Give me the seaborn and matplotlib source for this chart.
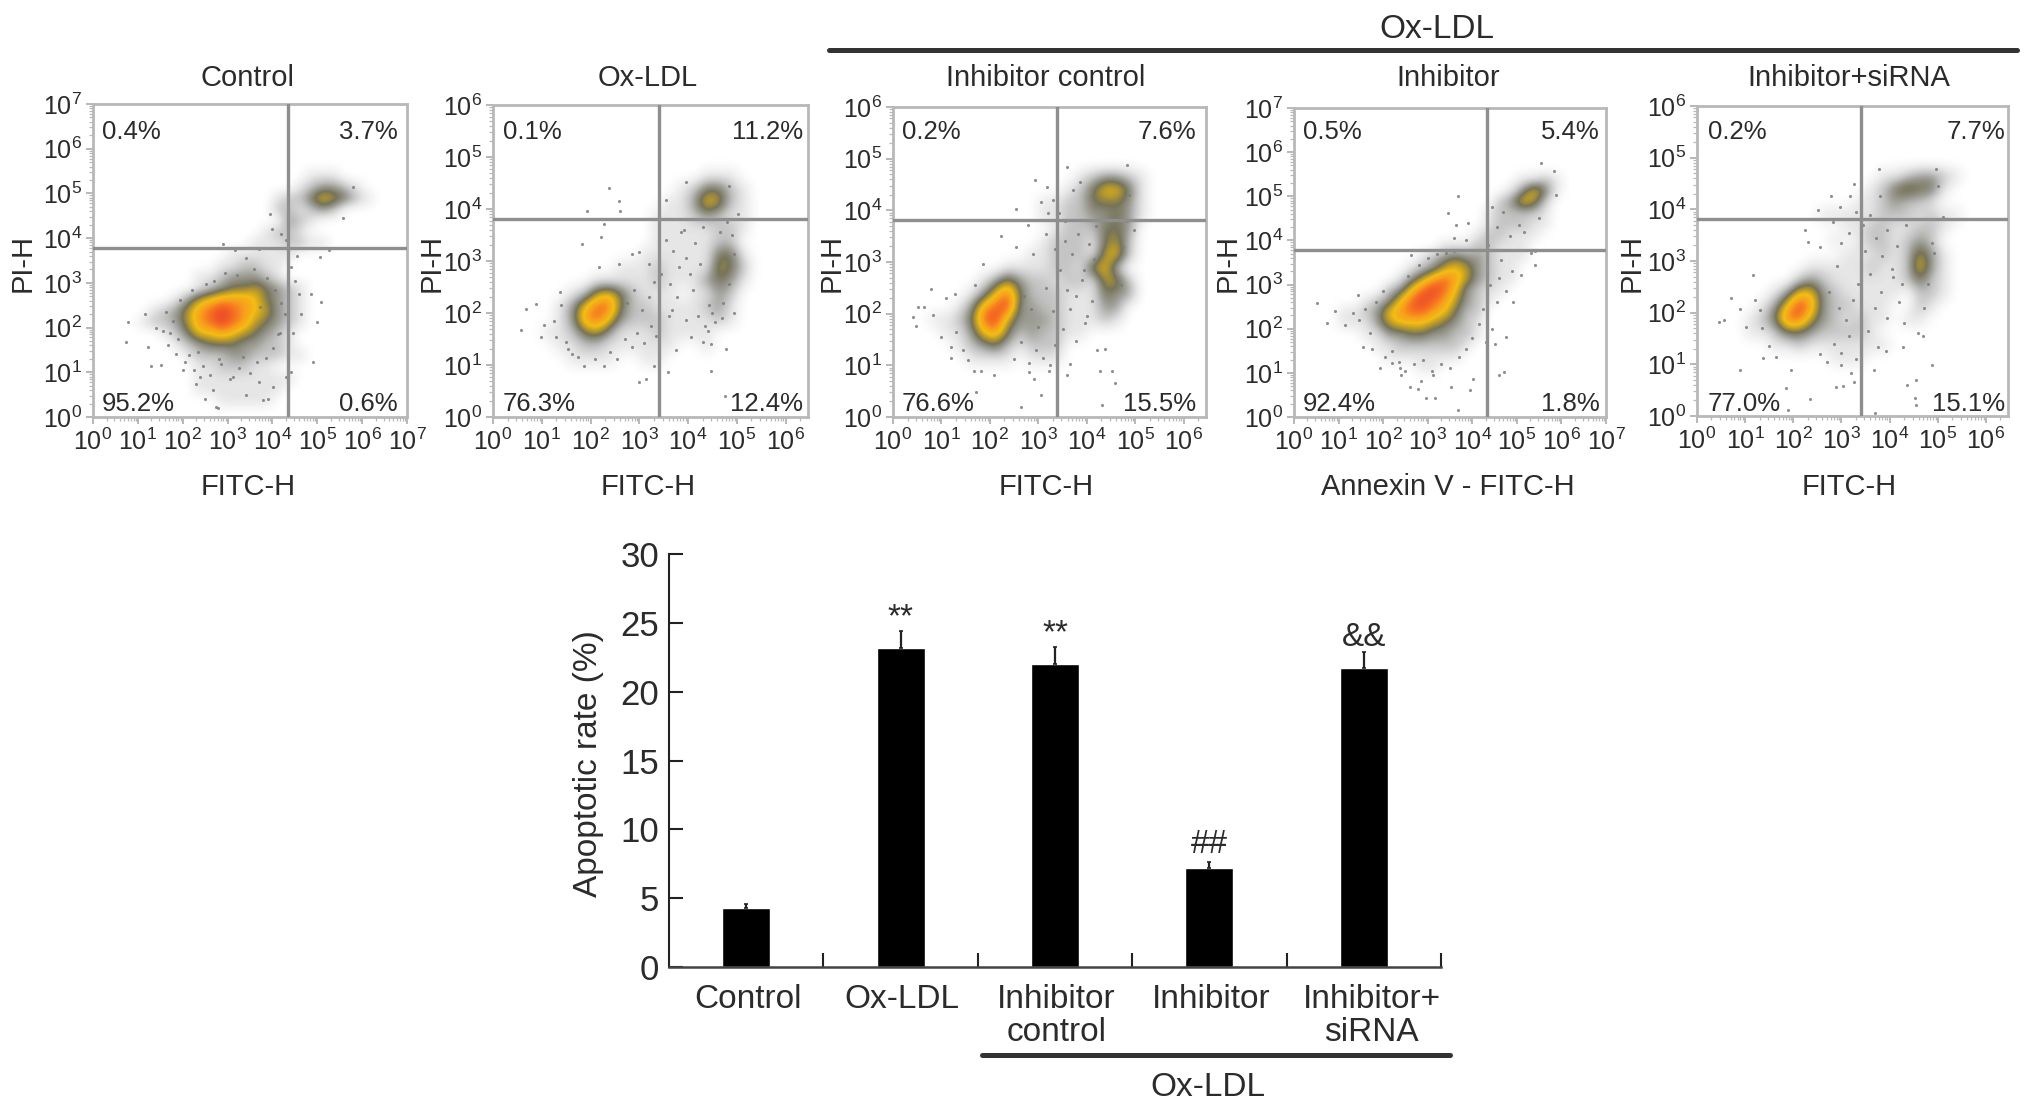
import numpy as np
import pandas as pd
import seaborn as sns
import matplotlib.pyplot as plt
from matplotlib.colors import LinearSegmentedColormap
from matplotlib.transforms import ScaledTranslation

W, H = 2031, 1117

# bar chart values
groups = ['Control', 'Ox-LDL', 'Inhibitor\ncontrol', 'Inhibitor', 'Inhibitor+\nsiRNA']
apoptotic_rate = [4.3, 23.2, 22.0, 7.2, 21.7]
rate_error = [0.3, 1.2, 1.25, 0.45, 1.15]
significance = ['', '**', '**', '##', '&&']
significance_y = [0, 25.4, 24.2, 8.9, 23.9]

# flow panels
titles = ['Control', 'Ox-LDL', 'Inhibitor control', 'Inhibitor', 'Inhibitor+siRNA']
xlabels = ['FITC-H', 'FITC-H', 'FITC-H', 'Annexin V - FITC-H', 'FITC-H']
upper_left = ['0.4%', '0.1%', '0.2%', '0.5%', '0.2%']
upper_right = ['3.7%', '11.2%', '7.6%', '5.4%', '7.7%']
lower_left = ['95.2%', '76.3%', '76.6%', '92.4%', '77.0%']
lower_right = ['0.6%', '12.4%', '15.5%', '1.8%', '15.1%']
gate_x = [4.35, 3.41, 3.38, 4.34, 3.41]
gate_y = [3.78, 3.81, 3.82, 3.79, 3.82]
decades_x = [7, 6.46, 6.46, 7, 6.46]
decades_y = [7, 6, 6, 7, 6]

# event density, on a quarter-decade grid.
# one row per 0.25 decade of PI-H from 5.5 down to 0: (first column, levels)
density_control = [
    (19, '111'), (18, '123321'), (16, '122465421'), (16, '221232'),
    (17, '321'), (15, '1221'), (14, '1112211'), (12, '111111'),
    (11, '112211'), (9, '11233321'), (9, '1234454321'), (7, '135677764321'),
    (5, '12357898765321'), (4, '122357898754321'), (6, '124667654321'),
    (7, '12344433221'), (8, '12223322211'), (9, '1122211'), (9, '111111111'),
    (9, '11111111'), (11, '11111'), (0, ''),
]
density_oxldl = [
    (0, ''), (0, ''), (0, ''), (17, '111'), (15, '124421'), (14, '1136521'),
    (13, '11123211'), (13, '11111221'), (13, '1111122'), (12, '111111441'),
    (10, '11121111542'), (8, '1111121113431'), (6, '12564211101132'),
    (5, '136884221111231'), (5, '137863222111121'), (4, '11245311121111'),
    (5, '1122111111001'), (6, '11110011'), (0, ''), (0, ''), (0, ''), (0, ''),
]
density_inhibitor_control = [
    (0, ''), (0, ''), (0, ''), (15, '123321'), (14, '1246641'),
    (12, '112244431'), (12, '112233431'), (13, '1222443'), (12, '12221452'),
    (11, '112221562'), (9, '1111221562'), (7, '1353221221552'),
    (6, '13684222111433'), (5, '13789332211133'), (3, '1124895333211121'),
    (4, '113674232211'), (5, '123421222'), (6, '11110111'),
    (0, ''), (0, ''), (0, ''), (0, ''),
]
density_inhibitor = [
    (20, '1121'), (19, '13641'), (18, '23652'), (17, '122221'), (17, '122211'),
    (16, '122111'), (13, '11122111'), (11, '1234332111'), (10, '1235653211'), (9, '13578753211'),
    (8, '23689863211'), (6, '123689875321'),
    (4, '1123678876422'), (4, '1113566654321'), (6, '11334433221'), (7, '112222221'),
    (8, '1111111'), (11, '11'), (0, ''), (0, ''), (0, ''), (0, ''),
]
density_inhibitor_sirna = [
    (0, ''), (0, ''), (0, ''), (15, '1123321'), (14, '1245441'),
    (13, '1123221'), (10, '111112221211'), (12, '112211221'),
    (11, '101221232'), (12, '111212531'),
    (9, '111112112631'), (8, '2321111112421'),
    (6, '136632111110221'), (5, '136973221110021'),
    (4, '124885321211011'), (4, '11244322221'),
    (6, '1121111111'), (11, '111'), (0, ''), (0, ''), (0, ''), (0, ''),
]
densities = [density_control, density_oxldl, density_inhibitor_control,
             density_inhibitor, density_inhibitor_sirna]

# single events outside the clouds, log10 units
stray_x = [
    [.78, .73, 1.15, 1.3, 1.52, 1.23, 1.41, 1.71, 4.9, 5.0, 5.09, 4.64, 4.46, 4.87, 4.6, 5.05, 5.27, 5.8,
     5.57, 2.9, 3.16, 3.94, 2.75, 2.0, 2.3, 2.67, 3.42, 3.79, 3.9, 4.01, 3.71, 2.38, 2.79, 2.49, 3.12, 4.16,
     4.31, 4.42],
    [2.38, 2.59, 2.61, 1.92, 2.28, 2.21, 1.82, .57, .67, .88, .98, 1.05, 1.29, 1.53, 1.87, 2.28, 2.09, 3.0,
     3.14, 3.31, 3.58, 4.47, 4.77, 4.95, 4.95, 5.02, 4.75, 3.75, 4.06, 4.3, 4.47, 3.96, 3.68, 3.82, 2.86, 3.0,
     2.59, 2.18, 3.2, 3.55, 3.96, 4.85],
    [.41, .48, .51, .65, .79, .82, .99, 1.2, 1.27, 1.68, 1.82, 2.09, 1.71, 2.64, 3.05, 3.39, 2.91, 2.81, 3.22,
     2.23, 2.53, 2.79, 2.93, 3.18, 3.05, 3.6, 4.83, 4.97, 4.59, 4.32, 4.28, 4.52, 4.38, 4.21, 3.66, 3.6, 3.77,
     3.97, 2.88, 2.53, 1.85],
    [.51, .73, .92, 1.14, 1.33, 1.44, 1.55, 1.93, 2.37, 2.6, 2.78, 2.97, 3.16, 3.53, 3.68, 3.94, 4.01, 3.12,
     4.61, 4.72, 4.76, 4.91, 5.1, 5.4, 5.4, 3.68, 3.46, 3.64, 3.9, 3.6, 2.63, 5.54, 5.84, 5.88, 5.5, 3.87, 5.32],
    [.46, .57, .71, .89, .9, 1.16, 1.02, 1.37, 1.85, 1.96, 2.35, 1.89, 2.89, 3.03, 3.0, 3.2, 3.27, 3.67, 4.36,
     4.55, 4.52, 4.54, 4.89, 3.69, 2.24, 2.55, 2.3, 2.51, 2.79, 3.17, 3.27, 2.82, 2.96, 3.79, 4.97, 5.11, 4.93,
     4.69, 3.93, 4.28, 3.76],
]
stray_y = [
    [2.13, 1.68, 2.3, 1.13, 1.16, 1.57, 1.98, 1.87, 1.23, 2.13, 2.57, 2.31, 1.87, 2.76, 2.76, 3.58, 3.73, 5.15,
     4.44, 3.88, 3.73, 4.55, .22, 1.04, .73, .6, .49, .37, .41, .67, .78, .9, .21, .41, .9, 1.87, .9, 1.01],
    [4.41, 4.15, 3.96, 3.96, 3.71, 3.47, 3.33, 1.67, 2.07, 2.17, 1.54, 1.76, 1.54, 1.31, .99, .99, 1.12, .67,
     .74, .99, .87, .88, 1.31, 2.0, 3.13, 3.91, .4, 1.28, 1.54, 1.44, 1.41, 1.86, 2.05, 2.88, 3.14, 3.17, 2.95,
     2.88, 2.95, 4.17, 4.52, 4.45],
    [1.94, 1.77, 2.13, 2.13, 2.48, 1.97, 1.55, 1.35, 2.39, .9, .9, .81, .48, .19, .42, .42, .74, .87, .9, 3.5,
     4.03, 3.71, 4.58, 4.45, 4.16, 4.84, 4.87, 3.61, .65, .23, .9, .9, 1.32, 1.29, 1.03, .81, 1.48, 1.81, 3.16,
     3.29, 2.97],
    [2.58, 2.12, 2.39, 2.08, 2.35, 2.77, 1.59, 1.1, 1.1, .68, .64, .42, .42, .68, .15, .61, .87, .95, .95, 1.02,
     1.82, 2.61, 3.22, 3.45, 3.75, 5.0, 4.62, 4.36, 4.39, 4.05, 3.67, 5.76, 5.57, 5.04, 4.51, 4.02, 3.71],
    [1.81, 1.86, 2.28, 2.08, .89, 2.73, 1.73, 1.12, .54, .89, .32, .12, .57, .58, .99, .83, .66, .89, .6, .7,
     .34, .21, .99, .06, 3.6, 3.28, 3.37, 3.99, 4.25, 4.25, 4.5, 3.76, 4.05, 4.79, 4.79, 3.86, 3.15, 1.54, 1.25,
     1.34, 1.34],
]

# events in the thin haze around the clouds
haze_x = [
    [1.62, 1.78, 1.9, 1.55, 1.68, 1.85, 2.05, 2.15, 2.25, 2.45, 2.6, 2.85, 3.05, 3.25, 3.5, 3.65, 3.85, 4.02, 4.12,
     3.95, 3.72, 3.48, 3.2, 2.95, 2.7, 2.52, 2.2, 1.95, 2.35, 2.82, 3.35, 3.58, 3.88, 4.05, 4.2, 4.28, 4.35, 4.5,
     4.42, 4.55, 4.3, 4.2, 3.98, 3.7, 3.4],
    [1.25, 1.4, 1.5, 1.38, 1.62, 1.75, 2.4, 2.55, 2.7, 2.85, 2.95, 3.1, 3.25, 3.35, 2.75, 2.9, 3.05, 3.2, 3.3, 3.45,
     3.55, 3.62, 3.7, 3.85, 3.95, 4.05, 4.15, 4.25, 3.6, 3.78, 3.92, 4.1, 4.2, 4.35, 4.42, 4.55, 4.7, 4.85, 4.9, 4.8,
     4.3, 4.65, 4.72, 4.4, 4.5],
    [1.1, 1.3, 1.45, 1.2, 1.55, 1.7, 2.5, 2.65, 2.8, 2.95, 3.1, 3.25, 3.35, 2.7, 2.85, 3.0, 3.15, 3.3, 3.45, 3.55,
     3.6, 3.7, 3.82, 3.95, 4.05, 4.15, 3.5, 3.65, 3.78, 3.9, 4.0, 4.1, 4.2, 4.75, 4.82, 4.88, 4.7, 3.3, 3.42, 3.55,
     3.72, 3.85, 3.2, 3.15, 3.35],
    [1.45, 1.6, 1.7, 1.85, 2.0, 1.75, 2.05, 2.2, 2.35, 2.5, 2.7, 2.9, 3.1, 3.3, 3.5, 3.7, 3.85, 4.0, 4.15, 4.25, 4.3,
     4.45, 4.55, 4.4, 4.6, 4.75, 4.9, 4.5, 2.55, 2.8, 3.0, 3.2, 3.4, 3.6, 2.85, 2.4, 2.2, 4.65, 4.85, 5.05, 4.55,
     4.45, 4.7, 5.15, 4.35],
    [1.2, 1.35, 1.5, 1.3, 1.65, 2.55, 2.7, 2.85, 3.0, 3.15, 3.3, 3.4, 2.75, 2.95, 3.1, 3.25, 3.35, 2.9, 3.5, 3.6,
     3.72, 3.85, 3.95, 4.05, 4.15, 4.25, 3.55, 3.7, 3.82, 3.95, 4.08, 4.2, 3.45, 3.6, 3.8, 3.3, 3.15, 3.0, 4.8, 4.88,
     4.72, 4.3, 4.35, 4.6, 5.0],
]
haze_y = [
    [2.35, 2.15, 1.75, 1.92, 1.62, 1.42, 1.22, 1.38, 1.05, 1.15, .95, 1.18, .85, 1.1, .98, 1.22, 1.32, 1.55, 1.85,
     2.2, 2.45, 3.02, 3.18, 3.22, 3.05, 2.98, 2.85, 2.62, 1.45, 1.3, 1.35, 3.3, 3.1, 2.85, 2.55, 2.3, 2.9, 3.05,
     3.35, 3.6, 3.95, 4.1, 4.2, 3.75, 3.55],
    [1.85, 2.15, 1.45, 2.4, 1.22, 1.15, 1.25, 1.12, 1.5, 1.35, 1.62, 1.42, 1.75, 1.55, 2.2, 2.45, 2.05, 2.3, 2.6, 2.75,
     3.4, 2.55, 3.2, 3.55, 3.05, 2.75, 3.35, 2.95, 1.95, 2.3, 3.6, 2.45, 1.95, 1.75, 2.15, 1.82, 1.9, 2.55, 3.5, 3.75,
     3.65, 3.55, 2.2, 1.65, 2.0],
    [2.3, 1.65, 1.3, 1.15, 1.1, 2.55, 1.12, 1.45, 1.05, 1.3, 1.15, 1.0, 1.4, 2.35, 2.1, 1.75, 2.5, 2.05, 2.85, 3.4,
     2.45, 3.15, 3.55, 2.85, 3.35, 3.05, 1.7, 2.1, 2.35, 2.65, 1.95, 2.25, 3.7, 3.3, 3.8, 4.3, 2.55, 4.2, 3.95, 3.8,
     4.4, 4.55, 3.95, 3.55, 3.25],
    [2.2, 2.45, 1.9, 2.6, 2.85, 1.55, 1.35, 1.5, 1.25, 1.05, 1.2, 1.3, 1.05, 1.2, 1.1, 1.35, 1.55, 1.8, 2.1, 2.45, 1.7,
     2.0, 2.6, 3.0, 3.15, 2.85, 3.3, 1.65, 3.2, 3.45, 3.6, 3.7, 3.72, 3.75, .82, .95, 1.22, 3.55, 4.1, 4.35, 4.3,
     4.75, 4.65, 4.2, 3.9],
    [2.25, 1.7, 1.35, 2.05, 1.15, 1.2, 1.05, 1.4, 1.22, 1.55, 1.1, 1.35, 2.4, 2.1, 1.85, 2.25, 2.55, 2.9, 3.2, 2.75,
     3.45, 3.1, 3.6, 2.85, 3.3, 2.55, 1.65, 2.1, 2.4, 1.9, 2.7, 2.2, 3.7, 3.9, 4.25, 3.95, 3.55, 3.35, 2.55, 3.35,
     2.1, 1.8, 3.7, 1.6, 4.45],
]

# axes boxes in pixels: left, right, top, bottom
panel_boxes = [(93, 407, 104, 417), (493, 808, 105, 417), (893, 1206, 107, 417),
               (1294, 1606, 108, 417), (1697, 2008, 106, 416)]
title_centres = [248, 648, 1046, 1448, 1849]
ylabel_x = [23, 432, 832, 1228, 1632]
left_text_x = [102, 503, 902, 1303, 1708]
right_text_x = [398, 803, 1196, 1600, 2005]

sns.set_theme(style='white')
plt.rcParams['font.family'] = ['Liberation Sans', 'DejaVu Sans']
plt.rcParams['mathtext.fontset'] = 'custom'
plt.rcParams['mathtext.rm'] = 'Liberation Sans'
plt.rcParams['mathtext.default'] = 'rm'

TEXT = '#2b2b2b'
FRAME = '#b8b8b8'
GATE = '#8e8e8e'
flow_cmap = LinearSegmentedColormap.from_list('flow', [
    (0.0, '#ffffff'), (0.11, '#e6e6e6'), (0.22, '#c4c4c4'), (0.33, '#9a9a92'), (0.44, '#77745a'),
    (0.55, '#b99a2a'), (0.66, '#f3bd14'), (0.77, '#f8a01c'), (0.88, '#f66c22'), (1.0, '#e8402e'),
])

fig = plt.figure(figsize=(W / 100, H / 100), dpi=100)


def add_axes_px(left, right, top, bottom):
    return fig.add_axes([left / W, 1 - bottom / H, (right - left) / W, (bottom - top) / H])


def put_text(x, y, s, **kw):
    kw.setdefault('color', TEXT)
    kw.setdefault('ha', 'center')
    kw.setdefault('va', 'center')
    fig.text(x / W, 1 - y / H, s, **kw)


def density_grid(rows, n_cols):
    # one blank row on top so the interpolation fades out above 5.5
    grid = np.zeros((len(rows) + 1, n_cols))
    for r, (start, levels) in enumerate(rows):
        for c, level in enumerate(levels):
            grid[r + 1, start + c] = int(level)
    return grid


def draw_flow_panel(i):
    left, right, top, bottom = panel_boxes[i]
    ax = add_axes_px(left, right, top, bottom)
    grid = density_grid(densities[i], 28)
    ax.imshow(grid, cmap=flow_cmap, vmin=0, vmax=9, interpolation='bicubic', aspect='auto',
              extent=[0, 7, 0, 5.75], zorder=1)
    events = pd.DataFrame({'x': stray_x[i] + haze_x[i], 'y': stray_y[i] + haze_y[i]})
    sns.scatterplot(data=events, x='x', y='y', ax=ax, s=5, color='#7c7c7c', alpha=0.85, linewidth=0, zorder=2)
    ax.axvline(gate_x[i], color=GATE, lw=2.4, zorder=3)
    ax.axhline(gate_y[i], color=GATE, lw=2.4, zorder=3)
    ax.set_xlim(0, decades_x[i])
    ax.set_ylim(0, decades_y[i])
    ax.set_xlabel('')
    ax.set_ylabel('')

    x_major = np.arange(0, int(decades_x[i]) + 1)
    y_major = np.arange(0, decades_y[i] + 1)
    ax.set_xticks(x_major, [r'$10^{%d}$' % v for v in x_major], fontsize=18, color=TEXT)
    ax.set_yticks(y_major, [r'$10^{%d}$' % v for v in y_major], fontsize=18, color=TEXT)
    logs = np.log10(np.arange(2, 10))
    ax.set_xticks([d + m for d in x_major for m in logs if d + m < decades_x[i]], minor=True)
    ax.set_yticks([d + m for d in y_major[:-1] for m in logs], minor=True)
    ax.tick_params(which='major', length=5, width=1.4, color=FRAME, pad=3, bottom=True, left=True)
    ax.tick_params(which='minor', length=3, width=0.9, color=FRAME, bottom=True, left=True)
    for spine in ax.spines.values():
        spine.set_color(FRAME)
        spine.set_linewidth(2)

    centre = title_centres[i]
    put_text(centre, 78, titles[i], fontsize=21)
    put_text(centre, 487, xlabels[i], fontsize=21)
    put_text(ylabel_x[i], 263, 'PI-H', fontsize=21, rotation=90)
    put_text(left_text_x[i], 132, upper_left[i], fontsize=18.5, ha='left')
    put_text(right_text_x[i], 132, upper_right[i], fontsize=18.5, ha='right')
    put_text(left_text_x[i], 404, lower_left[i], fontsize=18.5, ha='left')
    put_text(right_text_x[i], 404, lower_right[i], fontsize=18.5, ha='right')


for i in range(5):
    draw_flow_panel(i)

# group bar above the dot plots
put_text(1437, 30, 'Ox-LDL', fontsize=24)
fig.add_artist(plt.Line2D([829 / W, 2017 / W], [1 - 50 / H, 1 - 50 / H], color='#333333', lw=3.6))

# apoptotic rate bars
ax = add_axes_px(669, 1441, 554, 967)
rates = pd.DataFrame({'group': groups, 'rate': apoptotic_rate})
sns.barplot(data=rates, x='group', y='rate', ax=ax, color='black', saturation=1, width=0.31, errorbar=None)
ax.errorbar(range(5), apoptotic_rate, yerr=[[0] * 5, rate_error], fmt='none', ecolor='#222222',
            elinewidth=1.6, capsize=1.5, capthick=1.2)
for i, mark in enumerate(significance):
    if mark:
        ax.text(i, significance_y[i], mark, ha='center', va='center', fontsize=24, color=TEXT)
ax.set_xlim(-0.5, 4.5)
ax.set_ylim(0, 30)
ax.set_xlabel('')
ax.set_ylabel('')
ax.set_yticks(range(0, 31, 5), range(0, 31, 5), fontsize=25, color=TEXT)
ax.set_xticks(np.arange(0.5, 5), [''] * 5)
ax.set_xticks(range(5), groups, minor=True, fontsize=24, color=TEXT, linespacing=1.05, va='top')
ax.tick_params(axis='y', direction='in', left=True, length=10, width=1.5, color='#222222', pad=7)
ax.tick_params(axis='x', which='major', direction='in', bottom=True, length=10, width=1.5, color='#222222')
ax.tick_params(axis='x', which='minor', length=0, pad=12.5)
# the group labels sit a little right of their bars
for label, shift in zip(ax.get_xticklabels(minor=True), [1.5, 1.5, 1.5, 1.5, 8]):
    label.set_transform(label.get_transform() + ScaledTranslation(shift / 100, 0, fig.dpi_scale_trans))
sns.despine(ax=ax)
ax.spines['left'].set_color('#222222')
ax.spines['bottom'].set_color('#444444')
ax.spines['left'].set_linewidth(1.5)
ax.spines['bottom'].set_linewidth(1.8)
put_text(589, 764, 'Apoptotic rate (%)', fontsize=24, rotation=90)
fig.add_artist(plt.Line2D([982 / W, 1450 / W], [1 - 1055 / H, 1 - 1055 / H], color='#333333', lw=3.6))
put_text(1208, 1088, 'Ox-LDL', fontsize=24)

fig.savefig('out.png', dpi=100, facecolor='white')
plt.close(fig)
